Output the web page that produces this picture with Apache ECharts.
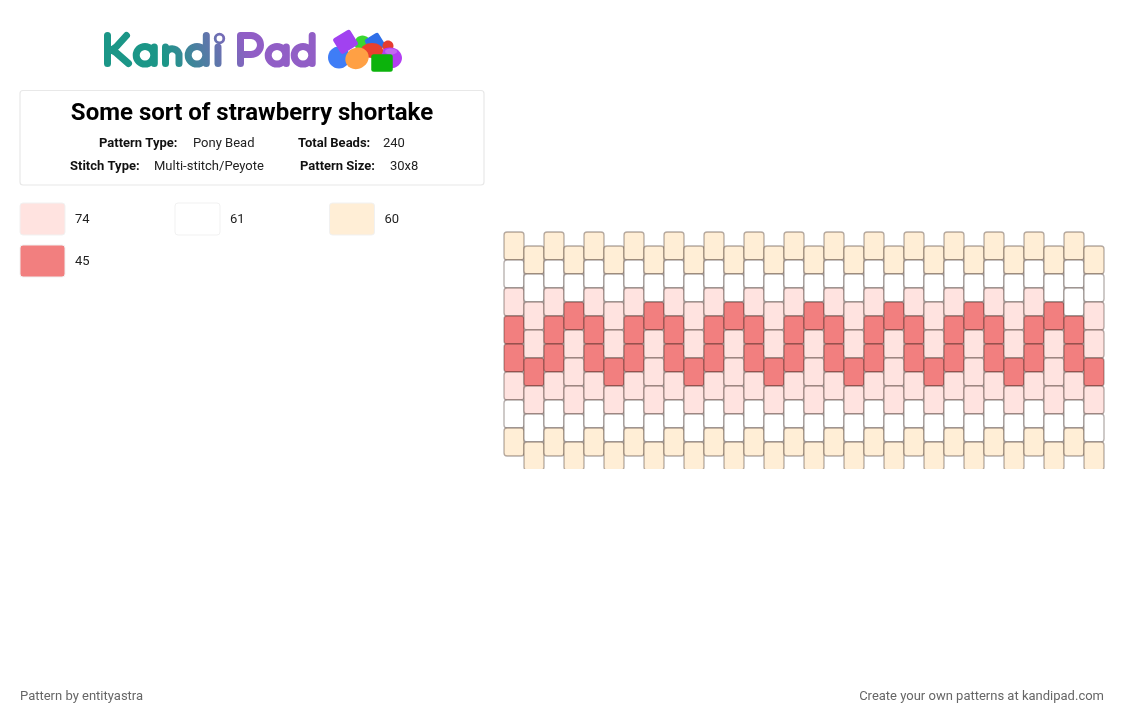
<!DOCTYPE html>
<html><head><meta charset="utf-8">
<style>html,body{margin:0;padding:0;background:#fff}#c{width:1124px;height:720px}</style>
<script src="https://cdn.jsdelivr.net/npm/echarts@6/dist/echarts.min.js"></script>
</head><body><div id="c"></div>
<script>
const titleText = "Some sort of strawberry shortake";
const infoLabels = ["Pattern Type:", "Total Beads:", "Stitch Type:", "Pattern Size:"];
const infoValues = ["Pony Bead", "240", "Multi-stitch/Peyote", "30x8"];
const footerLeft = "Pattern by entityastra";
const footerRight = "Create your own patterns at kandipad.com";
const swatchKeys = ["P", "W", "C", "R"];
const swatchCounts = [74, 61, 60, 45];
const beadColors = { P: "#FFE3E0", W: "#FFFFFF", C: "#FFEED6", R: "#F27F7F" };
// one string per column, top to bottom: C cream, W white, P pink, R red
const columns = [
  "CWPRRPWC", "CWPPRPWC", "CWPRRPWC", "CWRPPPWC", "CWPRRPWC", "CWPPRPWC",
  "CWPRRPWC", "CWRPPPWC", "CWPRRPWC", "CWPPRPWC", "CWPRRPWC", "CWRPPPWC",
  "CWPRRPWC", "CWPPRPWC", "CWPRRPWC", "CWRPPPWC", "CWPRRPWC", "CWPPRPWC",
  "CWPRRPWC", "CWRPPPWC", "CWPRRPWC", "CWPPRPWC", "CWPRRPWC", "CWRPPPWC",
  "CWPRRPWC", "CWPPRPWC", "CWPRRPWC", "CWRPPPWC", "CWWRRPWC", "CWPPRPWC"
];

const beads = [];
columns.forEach((col, c) => {
  col.split("").forEach((key, r) => beads.push([c, r * 2 + (c % 2), key]));
});

const FONT = "Roboto";
const txt = (x, y, text, o) => ({
  type: "text", x, y, silent: true,
  style: Object.assign({ text, fontFamily: FONT, fontSize: 13, fill: "#222", verticalAlign: "middle" }, o || {})
});

const logoStroke = {
  type: "linear", global: true, x: 170, y: 72, x2: 246, y2: 40,
  colorStops: [{ offset: 0, color: "#1B9687" }, { offset: 1, color: "#915EC6" }]
};
const logoPath = (pathData, w) => ({
  type: "path", silent: true, shape: { pathData },
  style: { fill: "none", stroke: logoStroke, lineWidth: w || 7, lineCap: "round", lineJoin: "round" }
});
const ring = (cx, cy, r) => `M${cx - r} ${cy}A${r} ${r} 0 1 1 ${cx + r} ${cy}A${r} ${r} 0 1 1 ${cx - r} ${cy}Z`;
const logoLetters = () => [
  logoPath("M107.5 35.5V63.5M126.5 35.5L116.5 46.5Q113.5 50 108 50Q113.5 50 116.5 53L128.5 63.5"),
  logoPath(ring(145, 55.2, 8.8) + "M154.3 47V63.5"),
  logoPath("M165.5 47V63.5M165.5 54A7 7 0 0 1 179 54V63.5"),
  logoPath(ring(197, 55.2, 8.8) + "M206.3 35.5V63.5"),
  logoPath("M218 47V63.5"),
  logoPath(ring(219.5, 38.5, 4.3), 2.8),
  logoPath("M240.5 63.5V35.5H251A9.5 9.5 0 0 1 251 54.5H240.5"),
  logoPath(ring(277, 55.2, 8.8) + "M286.3 47V63.5"),
  logoPath(ring(303, 55.2, 8.8) + "M312.2 35.5V63.5")
];
const ball = (cx, cy, rx, ry, fill, rot) => ({
  type: "ellipse", silent: true, shape: { cx: 0, cy: 0, rx, ry }, x: cx, y: cy, rotation: rot || 0, style: { fill }
});
const block = (cx, cy, w, h, fill, rot) => ({
  type: "rect", silent: true, shape: { x: -w / 2, y: -h / 2, width: w, height: h, r: 2.5 }, x: cx, y: cy, rotation: rot || 0, style: { fill }
});
const logoBeads = [
  ball(339, 57.5, 11, 11, "#3F7DF6"),
  ball(362.5, 43.5, 8, 8, "#3AD62F"),
  block(375, 43, 16, 16, "#2F6FE8", 0.55),
  ball(388, 46, 5.5, 5.5, "#E53C30"),
  ball(390, 58, 12, 10.5, "#B23EF2"),
  ball(391, 51.5, 6, 3, "#C468F2"),
  ball(372, 50.5, 11, 7.5, "#E8402F"),
  block(345.5, 41.8, 20, 18, "#A142F0", 0.55),
  ball(357, 58.3, 12, 10.5, "#FFA044", 0.5),
  block(382, 63, 21.5, 17.5, "#0CB30C", 0)
];

const infoBox = {
  type: "rect", silent: true, z: -1, shape: { x: 20, y: 90.5, width: 464, height: 94.5, r: 3 },
  style: { fill: "#fff", stroke: "#E8E8E8", lineWidth: 1.2 }
};
const infoX = [[99, 193], [298, 383], [70, 154], [300, 390]];
const infoY = [144, 144, 167, 167];
const infoTexts = [];
infoLabels.forEach((l, i) => {
  infoTexts.push(txt(infoX[i][0], infoY[i], l, { fontWeight: 700, fontSize: 13, fill: "#111" }));
  infoTexts.push(txt(infoX[i][1], infoY[i], infoValues[i], { fontSize: 13, fill: "#222" }));
});

const swatchX = [20, 175, 329.5, 20];
const swatchY = [203, 203, 203, 245];
const swatchEls = [];
swatchKeys.forEach((k, i) => {
  swatchEls.push({
    type: "rect", silent: true,
    shape: { x: swatchX[i], y: swatchY[i], width: 45, height: 32, r: 3 },
    style: { fill: beadColors[k], stroke: "#F1F1F1", lineWidth: 1 }
  });
  swatchEls.push(txt(swatchX[i] + 55, swatchY[i] + 16.5, String(swatchCounts[i])));
});

const chart = echarts.init(document.getElementById("c"), null, { renderer: "canvas", width: 1124, height: 720 });
chart.setOption({
  animation: false,
  backgroundColor: "#fff",
  title: {
    text: titleText, left: 247, top: 94, textAlign: "center", z: 5,
    textStyle: { fontFamily: FONT, fontSize: 24, fontWeight: 700, color: "#000", lineHeight: 30 }
  },
  grid: { left: 503, top: 231, width: 602, height: 238 },
  xAxis: { type: "value", min: -0.05, max: 30.05, show: false },
  yAxis: { type: "value", inverse: true, min: -1 / 14, max: 17 - 1 / 14, show: false },
  series: [{
    type: "custom",
    coordinateSystem: "cartesian2d",
    clip: true,
    data: beads,
    encode: { x: 0, y: 1 },
    renderItem: (params, api) => {
      const p = api.coord([api.value(0), api.value(1)]);
      const s = api.size([1, 2]);
      const key = beads[params.dataIndex][2];
      return {
        type: "rect",
        shape: { x: p[0], y: p[1], width: s[0], height: s[1], r: 3 },
        style: { fill: beadColors[key], stroke: "rgba(50,30,25,0.36)", lineWidth: 1.3 }
      };
    }
  }, {
    type: "custom",
    coordinateSystem: "none",
    silent: true,
    data: [0],
    renderItem: () => ({ type: "group", children: logoLetters() })
  }],
  graphic: { elements: [
    infoBox,
    ...logoBeads, ...infoTexts, ...swatchEls,
    txt(20, 697, footerLeft, { fill: "#666" }),
    txt(1104, 697, footerRight, { fill: "#666", align: "right" })
  ] }
});
</script>
</body></html>
